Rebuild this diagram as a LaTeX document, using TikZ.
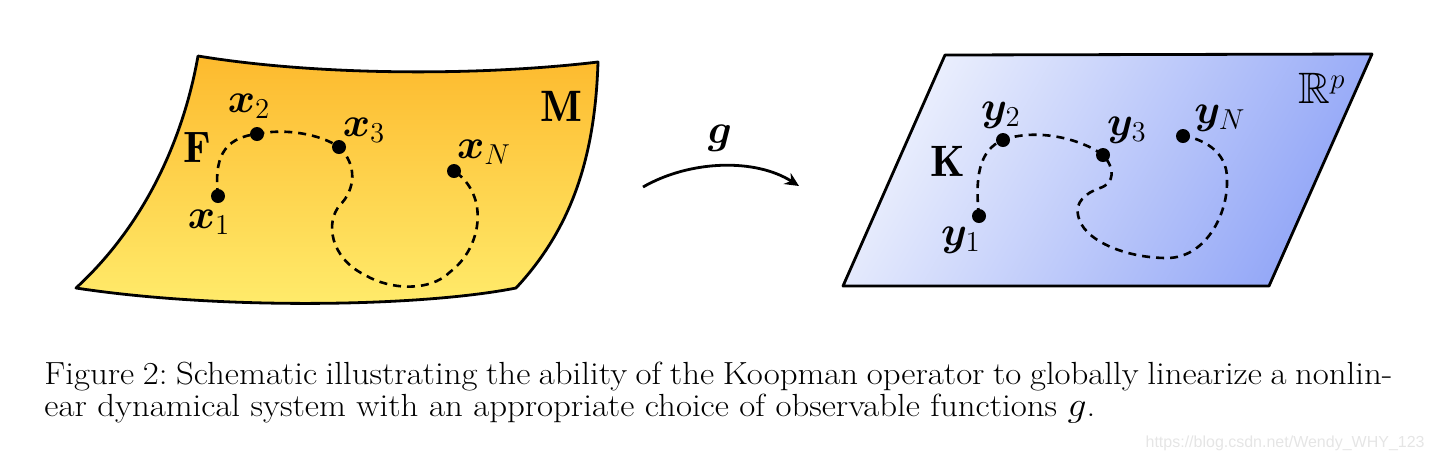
\documentclass[tikz,border=0pt]{standalone}
\usepackage{amsmath}
\usepackage{amssymb}
\usepackage{bm}
\usepackage{graphicx}
\usepackage{fontspec}
\usepackage{tikz}
\usetikzlibrary{arrows.meta}
\newfontfamily\wmfont{Liberation Sans}
\definecolor{surftop}{RGB}{253,186,46}
\definecolor{surfbot}{RGB}{255,236,108}
\definecolor{planeleft}{RGB}{236,240,253}
\definecolor{planeright}{RGB}{146,166,247}
\tikzstyle{surface} = [draw=black, line width=1.4pt, line join=round]
\tikzstyle{traj} = [line width=1.3pt, dash pattern=on 4pt off 3pt]
\tikzstyle{dot} = [circle, fill=black, inner sep=0pt, minimum size=7pt]
\tikzstyle{lbl} = [font=\fontsize{19.5}{21}\selectfont, inner sep=0pt]
\tikzstyle{op} = [font=\fontsize{22}{24}\selectfont, inner sep=0pt]
\tikzstyle{arrow} = [line width=1.4pt, -{Stealth[length=7pt, width=6.5pt]}]
\tikzstyle{caption} = [anchor=base west, inner sep=0pt, font=\fontsize{16}{17}\selectfont\frenchspacing]

\begin{document}
\begin{tikzpicture}[x=0.5pt, y=-0.5pt]
\useasboundingbox (0,0) rectangle (1436,463);

\path[surface, top color=surftop, bottom color=surfbot]
  (198,56) .. controls (320,76) and (480,76) .. (598,62)
  .. controls (595,160) and (570,230) .. (516,288)
  .. controls (420,307) and (220,310) .. (76,288)
  .. controls (150,220) and (185,130) .. (198,56) -- cycle;
\path[surface, top color=planeleft, bottom color=planeright, shading angle=60]
  (945,55) -- (1372,54) -- (1269,286) -- (843,286) -- cycle;

\node[dot] (x1) at (218,196) {};
\node[dot] (x2) at (257,134) {};
\node[dot] (x3) at (339,147) {};
\node[dot] (xN) at (454,171) {};
\node[lbl] (x1lab) at (209,222) {$\bm{x}_1$};
\node[lbl] (x2lab) at (249,106) {$\bm{x}_2$};
\node[lbl] (x3lab) at (364,130) {$\bm{x}_3$};
\node[lbl] (xNlab) at (484,152) {$\bm{x}_N$};
\node[op] (F) at (197,148) {$\mathbf{F}$};
\node[op] (M) at (561,106) {$\mathbf{M}$};

\draw[traj] (x1.center) .. controls (214,160) and (222,138) .. (x2.center)
  .. controls (285,128) and (320,134) .. (x3.center)
  .. controls (358,165) and (355,190) .. (340,205)
  .. controls (325,222) and (330,258) .. (365,275)
  .. controls (390,290) and (430,292) .. (450,272)
  .. controls (482,248) and (490,195) .. (xN.center);

\node[dot] (y1) at (979,216) {};
\node[dot] (y2) at (1003,140) {};
\node[dot] (y3) at (1103,155) {};
\node[dot] (yN) at (1183,136) {};
\node[lbl] (y1lab) at (961,240) {$\bm{y}_1$};
\node[lbl] (y2lab) at (1001,115) {$\bm{y}_2$};
\node[lbl] (y3lab) at (1127,130) {$\bm{y}_3$};
\node[lbl] (yNlab) at (1220,118) {$\bm{y}_N$};
\node[op] (K) at (948,161) {$\mathbf{K}$};
\node[op] (Rp) at (1322,88) {$\mathbb{R}^p$};

\draw[traj] (y1.center) .. controls (975,180) and (978,150) .. (y2.center)
  .. controls (1035,128) and (1080,138) .. (y3.center)
  .. controls (1115,168) and (1115,183) .. (1100,188)
  .. controls (1085,193) and (1075,203) .. (1078,215)
  .. controls (1082,240) and (1125,258) .. (1167,258)
  .. controls (1205,258) and (1228,215) .. (1227,180)
  .. controls (1228,150) and (1200,138) .. (yN.center);

\coordinate (gfrom) at (643,187);
\coordinate (gto) at (799,186);
\draw[arrow] (gfrom) .. controls (690,160) and (755,158) .. (gto);
\node[lbl] (g) at (720,138) {$\bm{g}$};

\node[caption] (cap1) at (44,384) {\scalebox{1.088}[1]{\hbox to 619.5pt{Figure 2: Schematic illustrating the ability of the Koopman operator to globally linearize a nonlin-}}};
\node[caption] (cap2) at (44,416) {\scalebox{1.088}[1]{ear dynamical system with an appropriate choice of observable functions $g$.}};
\node[anchor=base east, inner sep=0pt, text=black!10, font=\wmfont\fontsize{8}{10}\selectfont] (wm) at (1425,447) {https://blog.csdn.net/Wendy\_WHY\_123};
\end{tikzpicture}
\end{document}
